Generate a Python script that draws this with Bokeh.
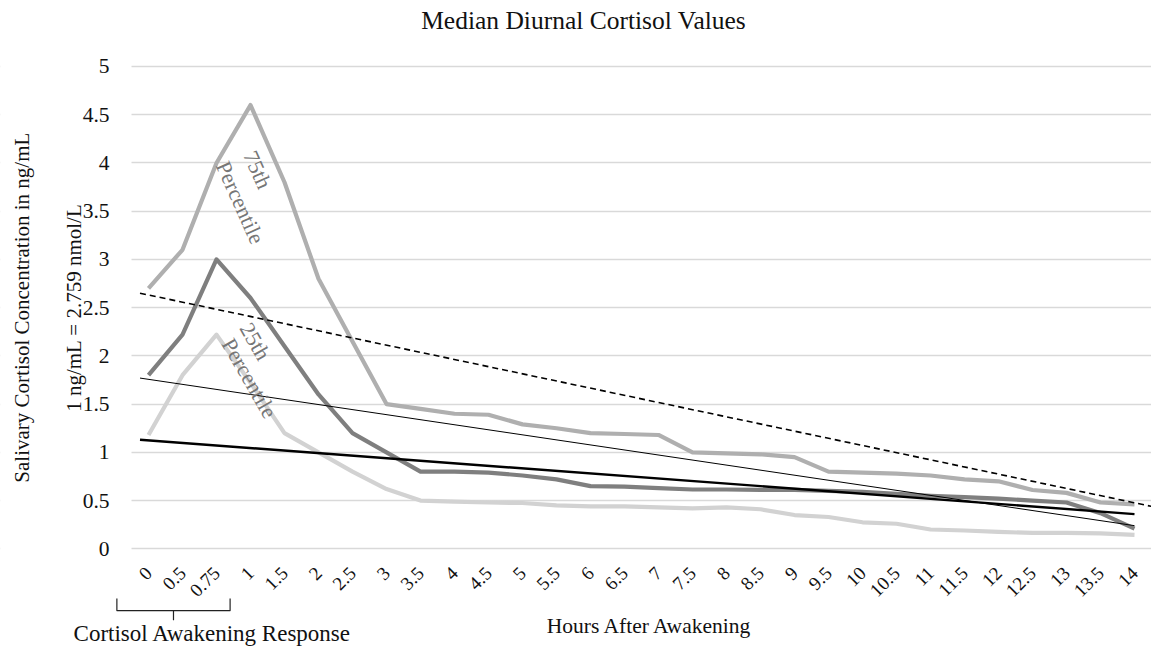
import math
from bokeh.plotting import figure
from bokeh.models import Range1d, FixedTicker, Label, BoxAnnotation
from bokeh.embed import file_html
from bokeh.resources import INLINE

# ---- data -------------------------------------------------------------
hours = ["0", "0.5", "0.75", "1", "1.5", "2", "2.5", "3", "3.5", "4", "4.5", "5",
         "5.5", "6", "6.5", "7", "7.5", "8", "8.5", "9", "9.5", "10", "10.5", "11",
         "11.5", "12", "12.5", "13", "13.5", "14"]

p75 = [2.70, 3.10, 4.00, 4.60, 3.80, 2.80, 2.15, 1.50, 1.45, 1.40, 1.39, 1.29, 1.25,
       1.20, 1.19, 1.18, 1.00, 0.99, 0.98, 0.95, 0.80, 0.79, 0.78, 0.76, 0.72, 0.70,
       0.61, 0.58, 0.48, 0.46]
median = [1.80, 2.22, 3.00, 2.60, 2.10, 1.60, 1.20, 1.00, 0.80, 0.80, 0.79, 0.76, 0.72,
          0.65, 0.645, 0.63, 0.615, 0.615, 0.61, 0.61, 0.60, 0.59, 0.57, 0.55, 0.535,
          0.52, 0.50, 0.48, 0.37, 0.21]
p25 = [1.18, 1.80, 2.22, 1.72, 1.20, 1.00, 0.80, 0.62, 0.50, 0.49, 0.48, 0.475, 0.45,
       0.44, 0.44, 0.43, 0.42, 0.43, 0.41, 0.35, 0.33, 0.275, 0.26, 0.20, 0.19, 0.175,
       0.165, 0.165, 0.16, 0.145]

# trend lines (start / end values)
trend_75_x = [-0.25, 29.5]
trend_75_y = [2.65, 0.44]
trend_med_x = [-0.25, 29.0]
trend_med_y = [1.77, 0.24]
trend_25_x = [-0.25, 29.0]
trend_25_y = [1.13, 0.36]

y_ticks = [0, 0.5, 1, 1.5, 2, 2.5, 3, 3.5, 4, 4.5, 5]
y_tick_labels = ["0", "0.5", "1", "1.5", "2", "2.5", "3", "3.5", "4", "4.5", "5"]

# categories spanned by the awakening-response bracket
car_first, car_last = 0, 2

FONT = "Liberation Serif"
TXT = "#111111"
x_idx = list(range(len(hours)))

# ---- figure -----------------------------------------------------------
W, H = 1151, 647
plot_left = 131                      # px where the category area starts
cat_px = (W - plot_left) / len(hours)
x_lo = -0.5 - plot_left / cat_px

# the frame covers the whole canvas so the texts around the axes are drawn
p = figure(width=W, height=H,
           x_range=Range1d(x_lo, len(hours) - 0.5),
           y_range=Range1d(-1.023, 5.684),
           output_backend="svg", toolbar_location=None,
           min_border_left=0, min_border_right=0,
           min_border_top=0, min_border_bottom=0)
p.outline_line_color = None
p.background_fill_color = "white"
p.border_fill_color = "white"

p.xgrid.visible = False
p.ygrid.grid_line_color = "#d9d9d9"
p.ygrid.grid_line_width = 1.3
p.ygrid.ticker = FixedTicker(ticks=y_ticks)
# keep grid lines out of the label area at the left
p.add_layout(BoxAnnotation(right=-0.5, fill_color="white", fill_alpha=1.0,
                           line_color=None, level="underlay"))

# y axis at the left edge of the category area
ya = p.yaxis[0]
ya.fixed_location = -0.5
ya.ticker = FixedTicker(ticks=y_ticks)
ya.major_label_overrides = {t: l for t, l in zip(y_ticks, y_tick_labels)}
ya.axis_line_color = None
ya.major_tick_line_color = None
ya.minor_tick_line_color = None
ya.major_label_text_font = FONT
ya.major_label_text_font_size = "21.5px"
ya.major_label_text_color = TXT
ya.major_label_standoff = 16

# x axis at y = 0
xa = p.xaxis[0]
xa.fixed_location = 0
xa.ticker = FixedTicker(ticks=x_idx)
xa.major_label_overrides = {i: h for i, h in zip(x_idx, hours)}
xa.major_label_orientation = math.pi / 4
xa.axis_line_color = None
xa.major_tick_line_color = None
xa.minor_tick_line_color = None
xa.major_label_text_font = FONT
xa.major_label_text_font_size = "19px"
xa.major_label_text_color = TXT
xa.major_label_standoff = 15

# ---- series -----------------------------------------------------------
p.line(x_idx, p75, line_color="#afafaf", line_width=4.2, line_join="round")
p.line(x_idx, p25, line_color="#d2d2d2", line_width=4.2, line_join="round")
p.line(x_idx, median, line_color="#7f7f7f", line_width=4.2, line_join="round")

p.line(trend_75_x, trend_75_y, line_color="black", line_width=1.6, line_dash="6 4")
p.line(trend_med_x, trend_med_y, line_color="black", line_width=1.0)
p.line(trend_25_x, trend_25_y, line_color="black", line_width=2.4)

# ---- bracket under the awakening-response categories ------------------
bl, br = car_first - 0.93, car_last + 0.40
bc = (bl + br) / 2
bt, bb, bx = -0.515, -0.64, -0.74
p.line([bl, bl, br, br], [bt, bb, bb, bt], line_color="#222222", line_width=1.2,
       line_join="round")
p.line([bc, bc], [bb, bx], line_color="#222222", line_width=1.2)

# ---- texts ------------------------------------------------------------
def label(txt, x, y, size, color=TXT, angle=0.0):
    p.add_layout(Label(x=x, y=y, text=txt, angle=angle, text_align="center",
                       text_baseline="middle", text_color=color,
                       text_font=FONT, text_font_size=size))


label("Median Diurnal Cortisol Values", 12.8, 5.48, "25.5px")
label("Hours After Awakening", 14.74, -0.796, "21.5px")
label("Cortisol Awakening Response", 1.88, -0.88, "23px")
label("Salivary Cortisol Concentration in ng/mL", -0.5 - 110 / cat_px, 2.5, "21px",
      angle=math.pi / 2)
label("1 ng/mL = 2.759 nmol/L", -0.5 - 58 / cat_px, 2.5, "21px", angle=math.pi / 2)

lab_col = "#767676"
label("75th", 3.21, 3.93, "22px", lab_col, -1.15)
label("Percentile", 2.70, 3.59, "22px", lab_col, -1.15)
label("25th", 3.14, 2.15, "22px", lab_col, -1.05)
label("Percentile", 2.97, 1.77, "22px", lab_col, -1.05)

open("out.html", "w").write(file_html(p, INLINE, title="Median Diurnal Cortisol Values"))
